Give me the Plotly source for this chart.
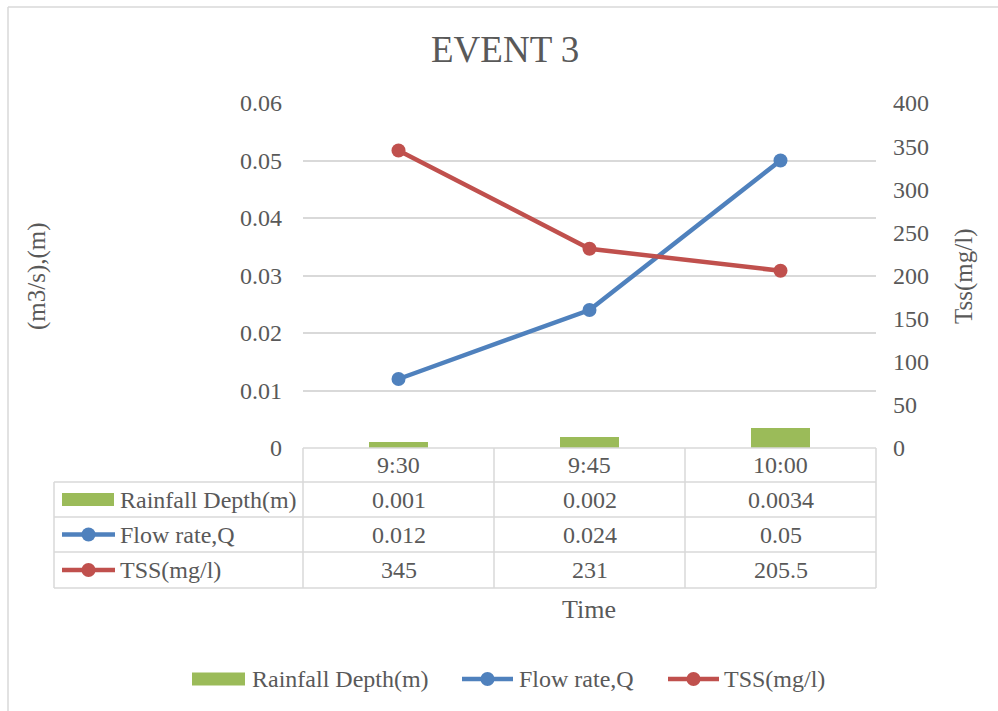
import plotly.graph_objects as go

# ---- data ----
times = ["9:30", "9:45", "10:00"]
rainfall_depth = [0.001, 0.002, 0.0034]
flow_rate = [0.012, 0.024, 0.05]
tss = [345, 231, 205.5]

series_names = ["Rainfall Depth(m)", "Flow rate,Q", "TSS(mg/l)"]
left_ticks = [0, 0.01, 0.02, 0.03, 0.04, 0.05, 0.06]
right_ticks = [0, 50, 100, 150, 200, 250, 300, 350, 400]

GREEN = "#9bbb59"
BLUE = "#4f81bd"
RED = "#c0504d"
GRID = "#d9d9d9"
TEXT = "#595959"
FONT = "Liberation Serif"

W, H = 998, 711


def px(x):
    return x / W


def py(y):
    return 1 - y / H


# plot area in pixels
X0, X1 = 303, 876
Y_TOP, Y_BOT = 103, 448

fig = go.Figure()

fig.add_trace(go.Bar(
    x=times, y=rainfall_depth, name=series_names[0],
    marker=dict(color=GREEN, line=dict(width=0)), width=0.31,
    yaxis="y", showlegend=False,
))
fig.add_trace(go.Scatter(
    x=times, y=flow_rate, name=series_names[1], mode="lines+markers",
    line=dict(color=BLUE, width=4.5), marker=dict(size=14, color=BLUE),
    yaxis="y", showlegend=False,
))
fig.add_trace(go.Scatter(
    x=times, y=tss, name=series_names[2], mode="lines+markers",
    line=dict(color=RED, width=4.5), marker=dict(size=14, color=RED),
    yaxis="y2", showlegend=False,
))

shapes = []
annotations = []

# chart area border (top and left edges)
shapes.append(dict(type="line", xref="paper", yref="paper",
                   x0=px(8), x1=px(998), y0=py(7), y1=py(7),
                   line=dict(color=GRID, width=1.5)))
shapes.append(dict(type="line", xref="paper", yref="paper",
                   x0=px(8), x1=px(8), y0=py(7), y1=py(711),
                   line=dict(color=GRID, width=1.5)))

# data table grid
col_edges = [303, 494, 685, 876]
row_edges = [448, 482, 517, 552, 588]
LABEL_LEFT = 54
for i, y in enumerate(row_edges):
    x_start = X0 if i == 0 else LABEL_LEFT
    shapes.append(dict(type="line", xref="paper", yref="paper",
                       x0=px(x_start), x1=px(X1), y0=py(y), y1=py(y),
                       line=dict(color=GRID, width=1.5)))
for x in col_edges:
    shapes.append(dict(type="line", xref="paper", yref="paper",
                       x0=px(x), x1=px(x), y0=py(448), y1=py(588),
                       line=dict(color=GRID, width=1.5)))
shapes.append(dict(type="line", xref="paper", yref="paper",
                   x0=px(LABEL_LEFT), x1=px(LABEL_LEFT), y0=py(482), y1=py(588),
                   line=dict(color=GRID, width=1.5)))


def key_bar(x0, x1, yc):
    shapes.append(dict(type="rect", xref="paper", yref="paper",
                       x0=px(x0), x1=px(x1), y0=py(yc + 6.5), y1=py(yc - 6.5),
                       fillcolor=GREEN, line=dict(width=0)))


def key_line(x0, x1, yc, color):
    shapes.append(dict(type="line", xref="paper", yref="paper",
                       x0=px(x0), x1=px(x1), y0=py(yc), y1=py(yc),
                       line=dict(color=color, width=4.5)))
    xm = (x0 + x1) / 2
    shapes.append(dict(type="circle", xref="paper", yref="paper",
                       x0=px(xm - 7), x1=px(xm + 7), y0=py(yc + 7), y1=py(yc - 7),
                       fillcolor=color, line=dict(width=0)))


def text(x, y, s, size=24, xanchor="center", angle=0):
    annotations.append(dict(xref="paper", yref="paper", x=px(x), y=py(y),
                            text=s, showarrow=False, xanchor=xanchor,
                            yanchor="middle", textangle=angle,
                            font=dict(family=FONT, size=size, color=TEXT)))


# header row: category labels
centers = [(col_edges[i] + col_edges[i + 1]) / 2 for i in range(len(times))]
for cx, t in zip(centers, times):
    text(cx, 465, t)

# value rows
row_centers = [(row_edges[i] + row_edges[i + 1]) / 2 for i in range(1, 4)]
row_values = [rainfall_depth, flow_rate, tss]
for rc, name, vals in zip(row_centers, series_names, row_values):
    for cx, v in zip(centers, vals):
        text(cx, rc, f"{v:g}")
    text(118, rc, name, xanchor="left")

key_bar(62, 114, row_centers[0])
key_line(62, 115, row_centers[1], BLUE)
key_line(62, 115, row_centers[2], RED)

# bottom legend
LEG_Y = 679
key_bar(192, 245, LEG_Y)
text(250, LEG_Y, series_names[0], xanchor="left")
key_line(462, 513, LEG_Y, BLUE)
text(517, LEG_Y, series_names[1], xanchor="left")
key_line(668, 719, LEG_Y, RED)
text(722, LEG_Y, series_names[2], xanchor="left")

# titles
text(505, 50, "EVENT 3", size=37)
text(589, 609, "Time", size=26)
text(37, 276, "(m3/s),(m)", size=25, angle=-90)
text(964, 277, "Tss(mg/l)", size=25, angle=-90)

fig.update_layout(
    width=W, height=H,
    margin=dict(l=0, r=0, t=0, b=0, pad=0, autoexpand=False),
    paper_bgcolor="white", plot_bgcolor="white",
    font=dict(family=FONT, size=24, color=TEXT),
    shapes=shapes, annotations=annotations,
    showlegend=False, bargap=0,
    xaxis=dict(
        domain=[px(X0), px(X1)], type="category", range=[-0.5, 2.5],
        showticklabels=False, showgrid=False, showline=False,
        zeroline=False, ticks="", automargin=False,
    ),
    yaxis=dict(
        domain=[py(Y_BOT), py(Y_TOP)], range=[0, 0.06],
        tickvals=left_ticks, ticktext=[f"{v:g}" for v in left_ticks],
        showgrid=True, gridcolor=GRID, gridwidth=1.5,
        zeroline=False, showline=False, ticks="",
        ticklabelstandoff=20, automargin=False,
        tickfont=dict(family=FONT, size=24, color=TEXT),
    ),
    yaxis2=dict(
        domain=[py(Y_BOT), py(Y_TOP)], range=[0, 400],
        overlaying="y", side="right", anchor="x",
        tickvals=right_ticks, ticktext=[str(v) for v in right_ticks],
        showgrid=False, zeroline=False, showline=False, ticks="",
        ticklabelstandoff=16, automargin=False,
        tickfont=dict(family=FONT, size=24, color=TEXT),
    ),
)

fig.write_html("out.html")
